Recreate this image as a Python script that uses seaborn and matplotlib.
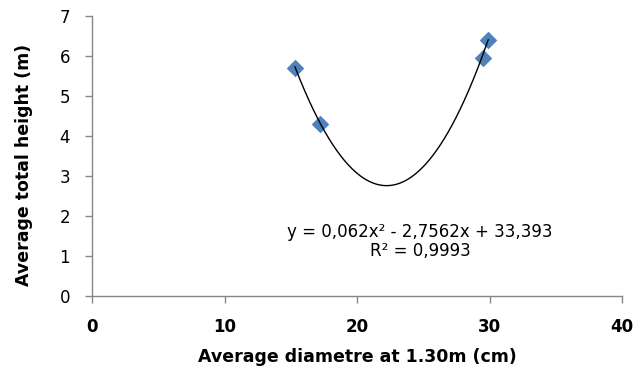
import numpy as np
import pandas as pd
import matplotlib
matplotlib.use("Agg")
import matplotlib.pyplot as plt
import seaborn as sns

# Data
diameter = [15.3, 17.2, 29.5, 29.9]
height = [5.7, 4.3, 5.95, 6.4]
# Trendline coefficients as shown in the chart (a*x^2 + b*x + c)
trend_coefs = [0.062, -2.7562, 33.393]
trend_label = "y = 0,062x² - 2,7562x + 33,393\nR² = 0,9993"
x_ticks = [0, 10, 20, 30, 40]
y_ticks = [0, 1, 2, 3, 4, 5, 6, 7]

sns.set_theme(style="white")
plt.rcParams['font.family'] = ['DejaVu Sans']
plt.rcParams['text.color'] = 'black'
plt.rcParams['axes.labelcolor'] = 'black'

fig = plt.figure(figsize=(6.36, 3.66), dpi=100)
ax = fig.add_axes([0.145, 0.191, 0.833, 0.765])

xs = np.linspace(min(diameter), max(diameter), 200)
trend = pd.DataFrame({"x": xs, "y": np.polyval(trend_coefs, xs)})
df = pd.DataFrame({"x": diameter, "y": height})

sns.scatterplot(data=df, x="x", y="y", marker="D", s=80, color="#4F81BD",
                edgecolor="#4F81BD", linewidth=0, ax=ax, zorder=2)
sns.lineplot(data=trend, x="x", y="y", color="black", linewidth=1.0, ax=ax, zorder=3)

ax.set_xlim(0, 40)
ax.set_ylim(0, 7)
ax.set_xticks(x_ticks)
ax.set_yticks(y_ticks)
ax.set_xticklabels([str(t) for t in x_ticks], fontweight="bold", fontsize=12)
ax.set_yticklabels([str(t) for t in y_ticks], fontsize=12)

for s in ["top", "right"]:
    ax.spines[s].set_visible(False)
for s in ["left", "bottom"]:
    ax.spines[s].set_color("#868686")
    ax.spines[s].set_linewidth(1.0)
ax.tick_params(axis="both", which="major", direction="out", length=5,
               width=1.0, color="#868686", labelcolor="black", pad=11,
               left=True, bottom=True)

ax.set_xlabel("Average diametre at 1.30m (cm)", fontweight="bold", fontsize=12.5, color="black")
ax.set_ylabel("Average total height (m)", fontweight="bold", fontsize=12.5, color="black")
ax.xaxis.set_label_coords(0.5, -0.185)
ax.yaxis.set_label_coords(-0.111, 0.47)

ax.text(24.75, 1.36, trend_label, ha="center", va="center", fontsize=12,
        linespacing=1.05, color="black")

fig.savefig("out.png", dpi=100)
